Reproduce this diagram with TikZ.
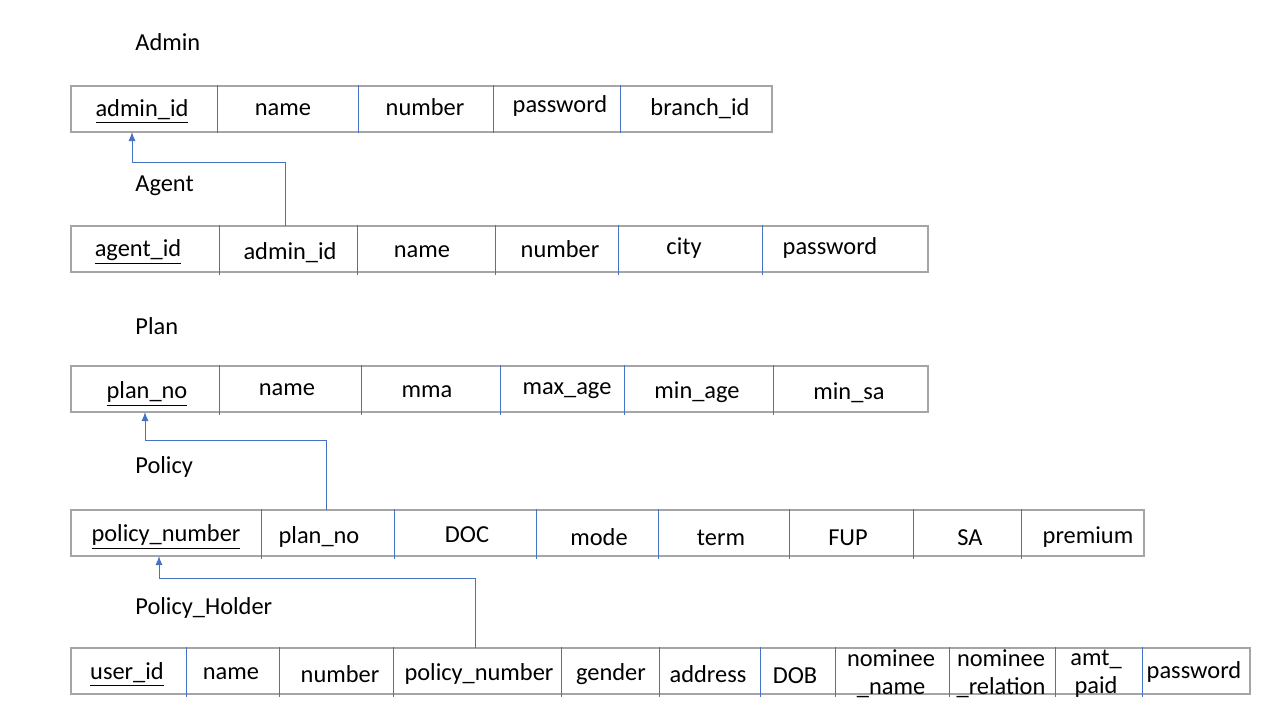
\documentclass[tikz,border=0pt]{standalone}
\usepackage{fontspec}
\setmainfont{Carlito}
\usetikzlibrary{arrows.meta}
\definecolor{boxgray}{RGB}{165,165,165}
\definecolor{sepblue}{RGB}{68,114,196}
\begin{document}
\begin{tikzpicture}[x=0.5pt,y=-0.5pt,
  font=\fontsize{12.2}{14}\selectfont,
  box/.style={draw=boxgray, line width=0.6pt, minimum height=23pt, inner sep=0pt},
  fld/.style={inner sep=0pt, align=center, yshift=-1.2pt},
  key/.style={fld, yshift=-1pt},
  title/.style={anchor=west, inner sep=0pt, yshift=-0.8pt},
  sepline/.style={draw=sepblue, line width=0.5pt},
  fk/.style={draw=sepblue, line width=0.5pt, -{Latex[length=4.5pt,width=3.5pt]}}]
\useasboundingbox (0,0) rectangle (1280,720);

% ---------- Admin ----------
\node[title] (tAdmin) at (135,41) {Admin};
\node[box, minimum width=350.5pt] (admin) at (421.5,109) {};
\foreach \x in {217,358,493,620} \draw[sepline] (\x,85) -- (\x,133);
\node[key] (ad1) at (142,107) {\underline{admin\_id}};
\node[fld] (ad2) at (283,107) {name};
\node[fld] (ad3) at (425,105) {number};
\node[fld] (ad4) at (560,104) {password};
\node[fld] (ad5) at (700,106) {branch\_id};

% ---------- Agent ----------
\node[title] (tAgent) at (135,184) {Agent};
\node[box, minimum width=428.5pt] (agent) at (499.5,249) {};
\foreach \x in {219,357,495,618,762} \draw[sepline] (\x,225) -- (\x,275);
\node[key] (ag1) at (138,248) {\underline{agent\_id}};
\node[fld] (ag2) at (290,250) {admin\_id};
\node[fld] (ag3) at (422,249) {name};
\node[fld] (ag4) at (560,247) {number};
\node[fld] (ag5) at (684,246) {city};
\node[fld] (ag6) at (830,246) {password};

% ---------- Plan ----------
\node[title] (tPlan) at (135,325) {Plan};
\node[box, minimum width=428.5pt] (plan) at (499.5,389) {};
\foreach \x in {219,361,500,624,773} \draw[sepline] (\x,365) -- (\x,415);
\node[key] (pl1) at (147,390) {\underline{plan\_no}};
\node[fld] (pl2) at (287,387) {name};
\node[fld] (pl3) at (427,389) {mma};
\node[fld] (pl4) at (567,388) {max\_age};
\node[fld] (pl5) at (697,390) {min\_age};
\node[fld] (pl6) at (849,390) {min\_sa};

% ---------- Policy ----------
\node[title] (tPolicy) at (135,465) {Policy};
\node[box, minimum width=536.5pt] (policy) at (607.5,533) {};
\foreach \x in {261,394,536,658,789,913,1021} \draw[sepline] (\x,509) -- (\x,559);
\node[key] (po1) at (166,533) {\underline{policy\_number}};
\node[fld] (po2) at (319,535) {plan\_no};
\node[fld] (po3) at (467,532) {DOC};
\node[fld] (po4) at (599,535) {mode};
\node[fld] (po5) at (721,535) {term};
\node[fld] (po6) at (848,535) {FUP};
\node[fld] (po7) at (970,535) {SA};
\node[fld] (po8) at (1088,535) {premium};

% ---------- Policy_Holder ----------
\node[title] (tHolder) at (135,606) {Policy\_Holder};
\node[box, minimum width=589.5pt] (holder) at (660.5,671) {};
\foreach \x in {186,279,393,561,659,760,835,949,1055,1142} \draw[sepline] (\x,647) -- (\x,697);
\node[key] (ph1) at (127,670) {\underline{user\_id}};
\node[fld] (ph2) at (231,671) {name};
\node[fld] (ph3) at (340,672) {number};
\node[fld] (ph4) at (479,672) {policy\_number};
\node[fld] (ph5) at (611,672) {gender};
\node[fld] (ph6) at (708,672) {address};
\node[fld] (ph7) at (795,673) {DOB};
\node[fld] (ph8) at (891,671) {nominee\\\_name};
\node[fld] (ph9) at (1001,671) {nominee\\\_relation};
\node[fld] (ph10) at (1096,671) {amt\_\\paid};
\node[fld] (ph11) at (1194,670) {password};

% ---------- foreign keys ----------
\coordinate (fkA) at (285,226);
\coordinate (bendA) at (132,162);
\coordinate (pkA) at (132,132);
\draw[fk] (fkA) |- (bendA) -- (pkA);

\coordinate (fkB) at (326,510);
\coordinate (bendB) at (145,440);
\coordinate (pkB) at (145,412);
\draw[fk] (fkB) |- (bendB) -- (pkB);

\coordinate (fkC) at (475,648);
\coordinate (bendC) at (159,578);
\coordinate (pkC) at (159,556);
\draw[fk] (fkC) |- (bendC) -- (pkC);
\end{tikzpicture}
\end{document}
